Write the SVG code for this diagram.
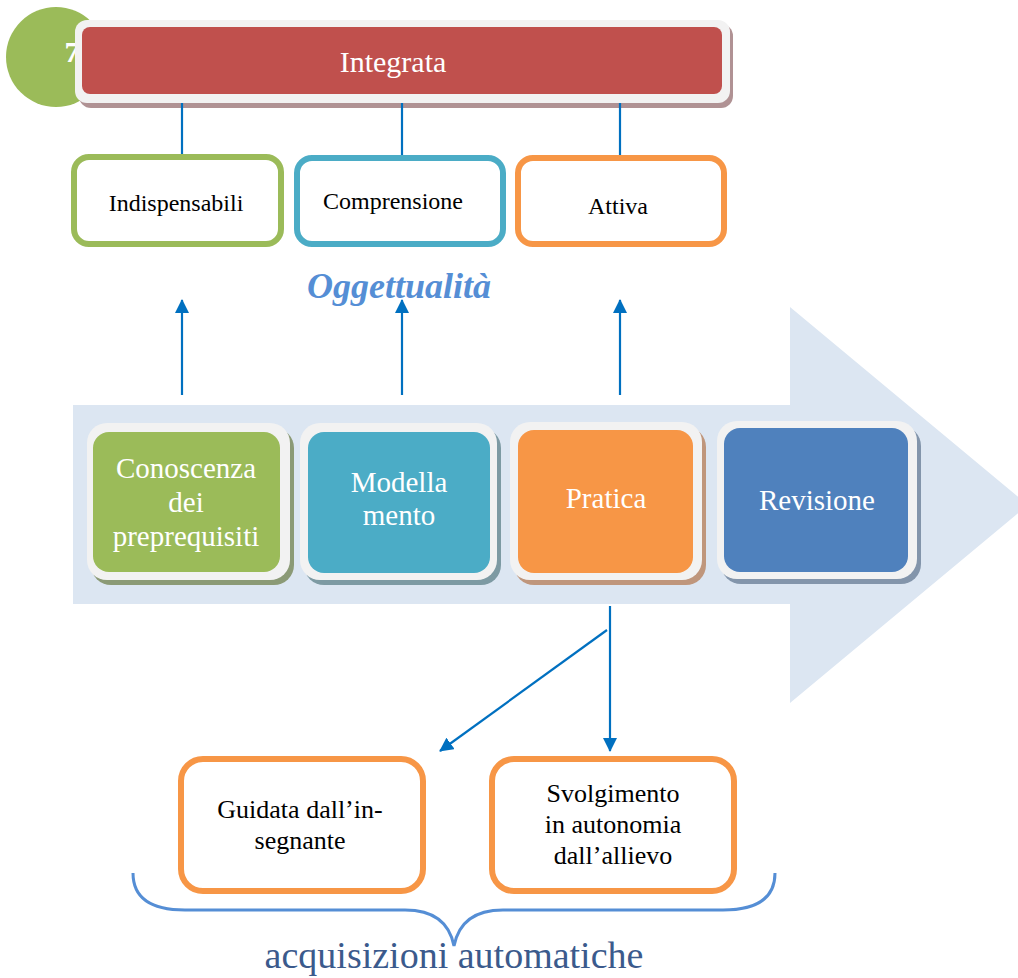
<svg xmlns="http://www.w3.org/2000/svg" width="1018" height="978" viewBox="0 0 1018 978" font-family="'Liberation Serif', 'Times New Roman', serif">
<style>
.t{font-family:"Liberation Serif","Times New Roman",serif;text-anchor:middle}
.w{fill:#ffffff;font-size:29px}
.b{fill:#000000;font-size:24px}
.b2{fill:#000000;font-size:26px}
.frame{fill:#f2f2f2}
.con{stroke:#0070c0;stroke-width:2.2;fill:none}
.ob{fill:#ffffff;stroke-width:6}
</style>
<defs>
<marker id="ah" viewBox="0 0 14 14" refX="13" refY="7" markerWidth="14" markerHeight="14" markerUnits="userSpaceOnUse" orient="auto">
<path d="M0,0 L14,7 L0,14 Z" fill="#0070c0"/>
</marker>
</defs>
<rect width="1018" height="978" fill="#ffffff"/>
<g id="process-arrow">
<polygon points="73,405 790,405 790,307 1028,505 790,703 790,604 73,604" fill="#dce6f2"/>
</g>
<g id="badge">
<circle cx="56" cy="57" r="50" fill="#9bbb59"/>
<text x="72" y="62" class="t" style="font-size:30px;font-weight:bold;fill:#ffffff">7</text>
</g>
<g id="integrata">
<rect x="79" y="24" width="654" height="84" rx="12" fill="#b09294"/>
<rect x="75" y="20" width="655" height="83" rx="12" class="frame"/>
<rect x="82" y="27" width="640" height="67" rx="8" fill="#c0504d"/>
<text x="393" y="72" class="t w" style="font-size:30px">Integrata</text>
</g>
<g id="connectors">
<line x1="182" y1="103" x2="182" y2="156" class="con"/>
<line x1="402" y1="103" x2="402" y2="156" class="con"/>
<line x1="620" y1="103" x2="620" y2="156" class="con"/>
<line x1="182" y1="395" x2="182" y2="300" class="con" marker-end="url(#ah)"/>
<line x1="402" y1="395" x2="402" y2="300" class="con" marker-end="url(#ah)"/>
<line x1="620" y1="395" x2="620" y2="300" class="con" marker-end="url(#ah)"/>
<line x1="610" y1="606" x2="610" y2="751" class="con" marker-end="url(#ah)"/>
<line x1="607" y1="630" x2="440" y2="751" class="con" marker-end="url(#ah)"/>
</g>
<g id="indispensabili">
<rect x="74" y="157" width="207" height="87" rx="15" class="ob" stroke="#9bbb59"/>
<text x="176" y="211" class="t b">Indispensabili</text>
</g>
<g id="comprensione">
<rect x="297" y="158" width="206" height="86" rx="15" class="ob" stroke="#4bacc6"/>
<text x="393" y="209" class="t b">Comprensione</text>
</g>
<g id="attiva">
<rect x="518" y="158" width="206" height="86" rx="15" class="ob" stroke="#f79646"/>
<text x="618" y="214" class="t b">Attiva</text>
</g>
<g id="oggettualita">
<text x="399" y="298" class="t" style="font-size:36px;font-weight:bold;font-style:italic;fill:#558ed5">Oggettualità</text>
</g>
<g id="conoscenza">
<rect x="91" y="428" width="203" height="157" rx="20" fill="#8b9a76"/>
<rect x="87" y="423" width="203" height="157" rx="20" class="frame"/>
<rect x="93" y="432" width="187" height="140" rx="16" fill="#9bbb59"/>
<text x="186" y="478" class="t w">Conoscenza</text>
<text x="186" y="512" class="t w">dei</text>
<text x="186" y="546" class="t w">preprequisiti</text>
</g>
<g id="modellamento">
<rect x="304" y="428" width="197" height="157" rx="20" fill="#7d9aa3"/>
<rect x="300" y="423" width="197" height="157" rx="20" class="frame"/>
<rect x="308" y="432" width="182" height="141" rx="16" fill="#4bacc6"/>
<text x="399" y="492" class="t w">Modella</text>
<text x="399" y="525" class="t w">mento</text>
</g>
<g id="pratica">
<rect x="514" y="427" width="192" height="158" rx="20" fill="#bf967c"/>
<rect x="510" y="422" width="192" height="158" rx="20" class="frame"/>
<rect x="518" y="430" width="175" height="143" rx="16" fill="#f79646"/>
<text x="606" y="508" class="t w">Pratica</text>
</g>
<g id="revisione">
<rect x="721" y="426" width="200" height="158" rx="20" fill="#8395ab"/>
<rect x="717" y="421" width="200" height="158" rx="20" class="frame"/>
<rect x="724" y="428" width="184" height="144" rx="16" fill="#4f81bd"/>
<text x="817" y="510" class="t w">Revisione</text>
</g>
<g id="guidata">
<rect x="181" y="759" width="242" height="132" rx="22" class="ob" stroke="#f79646"/>
<text x="300" y="818" class="t b2">Guidata dall’in-</text>
<text x="300" y="849" class="t b2">segnante</text>
</g>
<g id="svolgimento">
<rect x="492" y="759" width="242" height="132" rx="22" class="ob" stroke="#f79646"/>
<text x="613" y="802" class="t b2">Svolgimento</text>
<text x="613" y="833" class="t b2">in autonomia</text>
<text x="613" y="864" class="t b2">dall’allievo</text>
</g>
<g id="brace">
<path d="M133,873 Q133,910 185,910 L405,910 Q447,910 454,946 Q461,910 503,910 L723,910 Q775,910 775,873" fill="none" stroke="#558ed5" stroke-width="3"/>
<text x="454" y="968" class="t" style="font-size:38px;fill:#3b5a8c">acquisizioni automatiche</text>
</g>
</svg>
